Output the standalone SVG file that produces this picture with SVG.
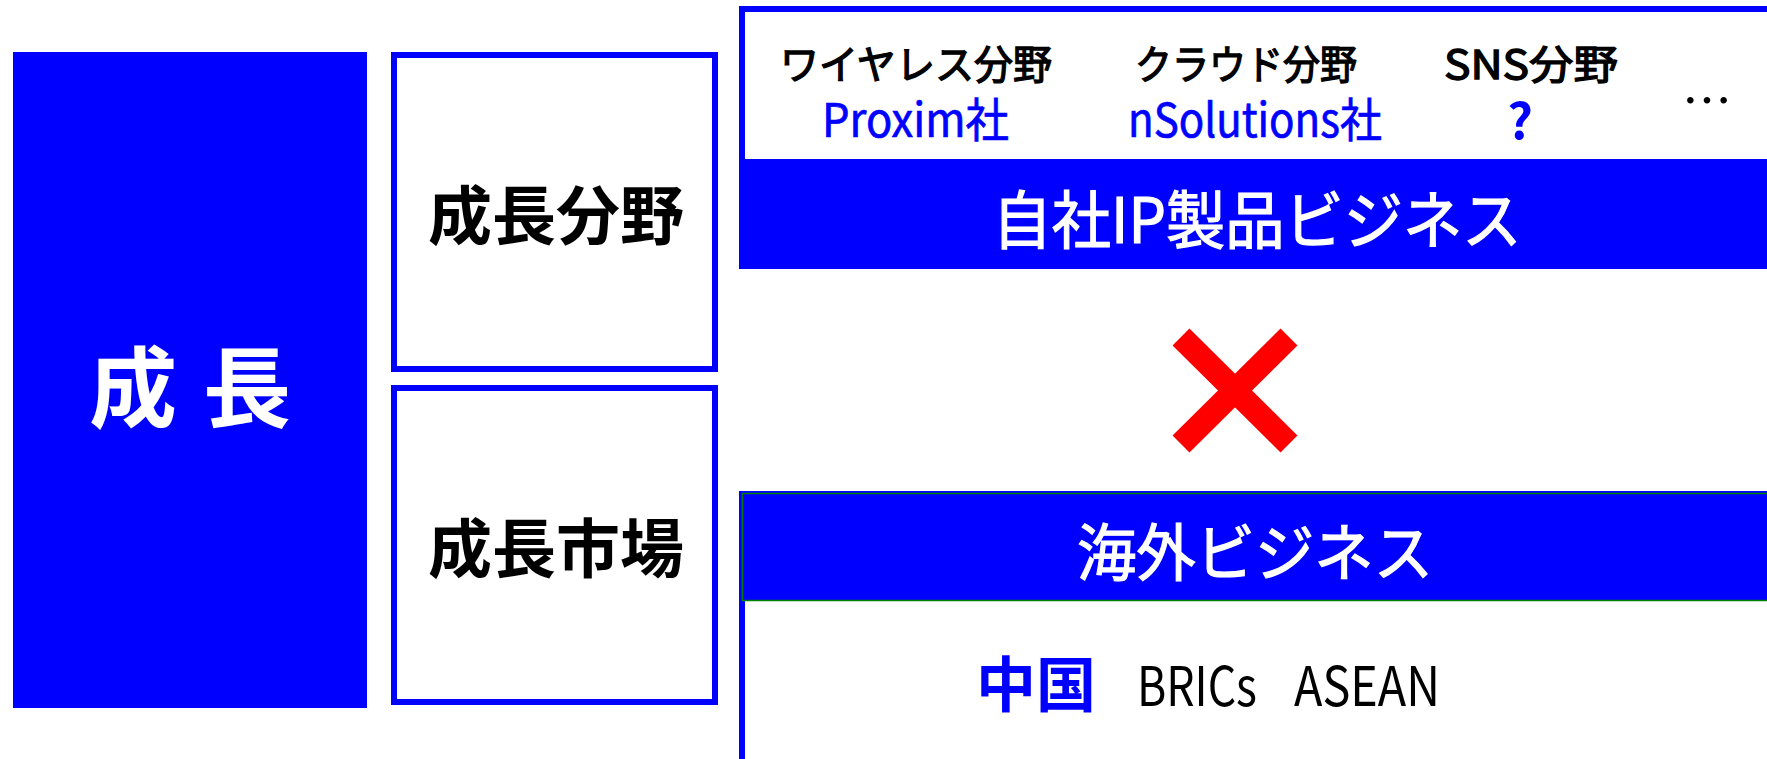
<svg xmlns="http://www.w3.org/2000/svg" width="1767" height="759" viewBox="0 0 1767 759">
<style>
text{font-family:"Noto Sans CJK JP","Liberation Sans",sans-serif;}
.box{fill:#ffffff;stroke:#0000ff;stroke-width:6;}
.band{fill:#0000ff;}
.w{fill:#ffffff;}
.k{fill:#000000;}
.b{fill:#0000ff;}
.bold{font-weight:bold;}
.mid{text-anchor:middle;}
.hk{stroke:#000000;stroke-width:1.3;}
.hb{stroke:#0000ff;stroke-width:0.7;}
.hw{stroke:#ffffff;stroke-width:1.2;}
</style>
<rect x="0" y="0" width="1767" height="759" fill="#ffffff"/>
<g id="growth">
<rect x="13" y="52" width="354" height="656" fill="#0000ff"/>
<text class="w bold" x="89 177 203" y="420" font-size="88">成 長</text>
</g>
<g id="growth-field">
<rect class="box" x="394" y="55" width="321" height="314"/>
<text class="k bold mid" x="556" y="239" font-size="64">成長分野</text>
</g>
<g id="growth-market">
<rect class="box" x="394" y="388" width="321" height="314"/>
<text class="k bold mid" x="556" y="572" font-size="64">成長市場</text>
</g>
<g id="ip-business">
<rect class="box" x="742" y="9" width="1100" height="257"/>
<rect class="band" x="739" y="159" width="1100" height="110"/>
<text class="k hk mid" x="916" y="79" font-size="40" textLength="272" lengthAdjust="spacingAndGlyphs">ワイヤレス分野</text>
<text class="k hk mid" x="1246" y="79" font-size="40" textLength="222" lengthAdjust="spacingAndGlyphs">クラウド分野</text>
<text class="k hk mid" x="1531" y="79" font-size="40" textLength="174" lengthAdjust="spacingAndGlyphs">SNS分野</text>
<text class="b hb mid" x="915.5" y="137" font-size="47" textLength="187" lengthAdjust="spacingAndGlyphs">Proxim社</text>
<text class="b hb mid" x="1255" y="137" font-size="47" textLength="254" lengthAdjust="spacingAndGlyphs">nSolutions社</text>
<text class="b mid bold" x="1520" y="139" font-size="50">?</text>
<text class="k" x="1682" y="119" font-size="50">…</text>
<text class="w hw mid" x="1257" y="243" font-size="63" textLength="529" lengthAdjust="spacingAndGlyphs">自社IP製品ビジネス</text>
</g>
<g id="cross">
<line x1="1181" y1="337" x2="1289" y2="444" stroke="#ff0000" stroke-width="24"/>
<line x1="1289" y1="337" x2="1181" y2="444" stroke="#ff0000" stroke-width="24"/>
</g>
<g id="overseas-business">
<rect class="box" x="742" y="494" width="1100" height="400"/>
<rect x="742.5" y="493.5" width="1100" height="107" fill="#0000ff" stroke="#008000" stroke-width="1.5"/>
<text class="w hw mid" x="1255" y="576" font-size="62" textLength="356" lengthAdjust="spacingAndGlyphs">海外ビジネス</text>
<text class="b bold" x="976" y="707" font-size="60">中国</text>
<text class="k" x="1137" y="706" font-size="54" textLength="120" lengthAdjust="spacingAndGlyphs">BRICs</text>
<text class="k" x="1294" y="706" font-size="54" textLength="146" lengthAdjust="spacingAndGlyphs">ASEAN</text>
</g>
<g id="connectors"/>
</svg>
